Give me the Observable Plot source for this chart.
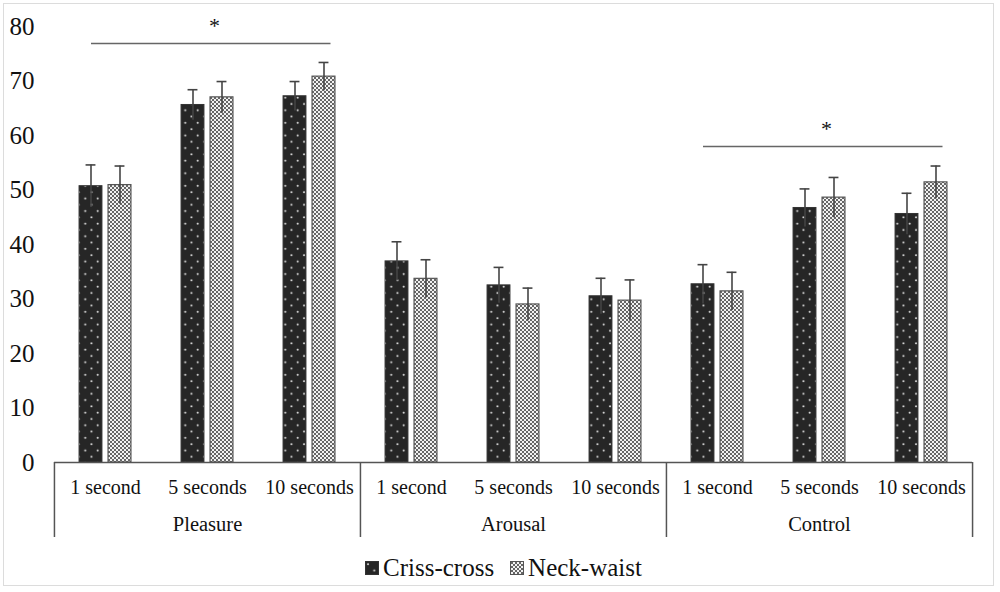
<!DOCTYPE html>
<html>
<head>
<meta charset="utf-8">
<script src="https://cdn.jsdelivr.net/npm/d3@7"></script>
<script src="https://cdn.jsdelivr.net/npm/@observablehq/plot@0.6"></script>
<style>
  html, body { margin: 0; padding: 0; background: #fff; }
  #wrap { position: relative; width: 1000px; height: 592px; overflow: hidden; font-family: "Liberation Serif", "Times New Roman", Times, serif; }
  #border { position: absolute; left: 3px; top: 3px; width: 989px; height: 581px; border: 1.5px solid #dcdcdc; pointer-events: none; }
  #legend { position: absolute; left: 365px; top: 553px; display: flex; align-items: center; font-size: 25px; color: #111; line-height: 30px; }
  #legend .item { display: flex; align-items: center; }
  #legend .item + .item { margin-left: 16px; }
  #legend svg { margin-right: 4px; }
</style>
</head>
<body>
<svg width="0" height="0" style="position:absolute">
  <defs>
    <pattern id="ccPat" patternUnits="userSpaceOnUse" width="12.5" height="12.6">
      <rect width="12.5" height="12.6" fill="#262626"></rect>
      <circle cx="3" cy="3.2" r="1" fill="#e8e8e8"></circle>
      <circle cx="9.25" cy="9.5" r="1" fill="#e8e8e8"></circle>
    </pattern>
    <pattern id="nwPat" patternUnits="userSpaceOnUse" width="4" height="4">
      <rect width="4" height="4" fill="#f2f2f2"></rect>
      <path d="M0,0 L4,4 M4,0 L0,4" stroke="#666" stroke-width="1"></path>
    </pattern>
  </defs>
</svg>
<div id="wrap">
  <div id="chart"></div>
  <div id="legend"></div>
  <div id="border"></div>
</div>
<script>
// ---- data ----
const groups = ["Pleasure", "Arousal", "Control"];
const times = ["1 second", "5 seconds", "10 seconds"];
const seriesNames = ["Criss-cross", "Neck-waist"];
const crissCross    = [50.7, 65.6, 67.2, 36.9, 32.5, 30.5, 32.7, 46.7, 45.6];
const crissCrossErr = [3.9, 2.8, 2.7, 3.6, 3.3, 3.3, 3.6, 3.5, 3.8];
const neckWaist     = [50.9, 67.0, 70.8, 33.7, 29.0, 29.7, 31.4, 48.6, 51.4];
const neckWaistErr  = [3.5, 2.9, 2.6, 3.5, 3.0, 3.8, 3.5, 3.7, 3.0];
const sigGroups = ["Pleasure", "Control"];
const sigLevels = [76.9, 58.0];
const sigMarks = ["*", "*"];
const yTicks = [0, 10, 20, 30, 40, 50, 60, 70, 80];

// ---- table ----
const rows = [];
groups.forEach((g, gi) => times.forEach((t, ti) => {
  const i = gi * times.length + ti;
  rows.push({group: g, time: t, series: seriesNames[0], value: crissCross[i], err: crissCrossErr[i]});
  rows.push({group: g, time: t, series: seriesNames[1], value: neckWaist[i], err: neckWaistErr[i]});
}));
const cc = rows.filter(d => d.series === seriesNames[0]);
const nw = rows.filter(d => d.series === seriesNames[1]);
const sig = sigGroups.map((g, i) => ({group: g, level: sigLevels[i], mark: sigMarks[i]}));

// ---- layout ----
const W = 1000, H = 545, ML = 53, MR = 28, MT = 26, MB = 83;
const b = (W - ML - MR) / (groups.length * times.length); // band width per time slot
const off = 14.5, half = 11.5, cap = 5;
const errColor = "#444";
const FONT = "'Liberation Serif', 'Times New Roman', Times, serif";

const chart = Plot.plot({
  width: W, height: H,
  marginLeft: ML, marginRight: MR, marginTop: MT, marginBottom: MB,
  style: {fontFamily: FONT, background: "transparent", color: "#111", overflow: "visible"},
  fx: {domain: groups, padding: 0, axis: null},
  x: {domain: times, padding: 0},
  y: {domain: [0, 80]},
  marks: [
    Plot.axisY({ticks: yTicks, tickSize: 0, tickPadding: 20, fontSize: 25, label: null}),
    Plot.axisX({tickSize: 0, tickPadding: 17, fontSize: 20, label: null}),
    Plot.barY(cc, {fx: "group", x: "time", y: "value", fill: "url(#ccPat)", stroke: "#333", strokeWidth: 1,
      insetLeft: b / 2 - off - half, insetRight: b / 2 + off - half}),
    Plot.barY(nw, {fx: "group", x: "time", y: "value", fill: "url(#nwPat)", stroke: "#555", strokeWidth: 1.2,
      insetLeft: b / 2 + off - half, insetRight: b / 2 - off - half}),
    Plot.ruleX(cc, {fx: "group", x: "time", y1: d => d.value - d.err, y2: d => d.value + d.err, dx: -off, stroke: errColor, strokeWidth: 1.6}),
    Plot.ruleX(nw, {fx: "group", x: "time", y1: d => d.value - d.err, y2: d => d.value + d.err, dx: off, stroke: errColor, strokeWidth: 1.6}),
    Plot.tickY(cc, {fx: "group", x: "time", y: d => d.value + d.err, stroke: errColor, strokeWidth: 1.6,
      insetLeft: b / 2 - off - cap, insetRight: b / 2 + off - cap}),
    Plot.tickY(nw, {fx: "group", x: "time", y: d => d.value + d.err, stroke: errColor, strokeWidth: 1.6,
      insetLeft: b / 2 + off - cap, insetRight: b / 2 - off - cap}),
    Plot.ruleY([0], {stroke: "#555", strokeWidth: 1.5}),
    Plot.ruleX(groups, {fx: d => d, x: () => times[0], y1: () => 0, y2: () => 0, dx: -b / 2, insetBottom: -75, stroke: "#555", strokeWidth: 1.5}),
    Plot.ruleX([groups[groups.length - 1]], {fx: d => d, x: () => times[times.length - 1], y1: () => 0, y2: () => 0, dx: b / 2, insetBottom: -75, stroke: "#555", strokeWidth: 1.5}),
    Plot.text(groups, {fx: d => d, x: () => times[1], text: d => d, frameAnchor: "bottom", lineAnchor: "middle", dy: 61.6, fontSize: 20.5}),
    Plot.ruleY(sig, {fx: "group", y: "level", insetLeft: 37, insetRight: 29.5, stroke: "#666", strokeWidth: 1.5}),
    Plot.text(sig, {fx: "group", x: () => times[1], y: "level", text: "mark", dx: 7, dy: -17, fontSize: 22})
  ]
});
document.getElementById("chart").appendChild(chart);

// ---- legend ----
const legend = document.getElementById("legend");
[["url(#ccPat)", "#333"], ["url(#nwPat)", "#555"]].forEach(([fill, stroke], i) => {
  const item = document.createElement("div");
  item.className = "item";
  item.innerHTML = `<svg width="14" height="14"><rect x="0.5" y="0.5" width="13" height="13" fill="${fill}" stroke="${stroke}" stroke-width="1"></rect></svg><span>${seriesNames[i]}</span>`;
  legend.appendChild(item);
});
</script>
</body>
</html>
